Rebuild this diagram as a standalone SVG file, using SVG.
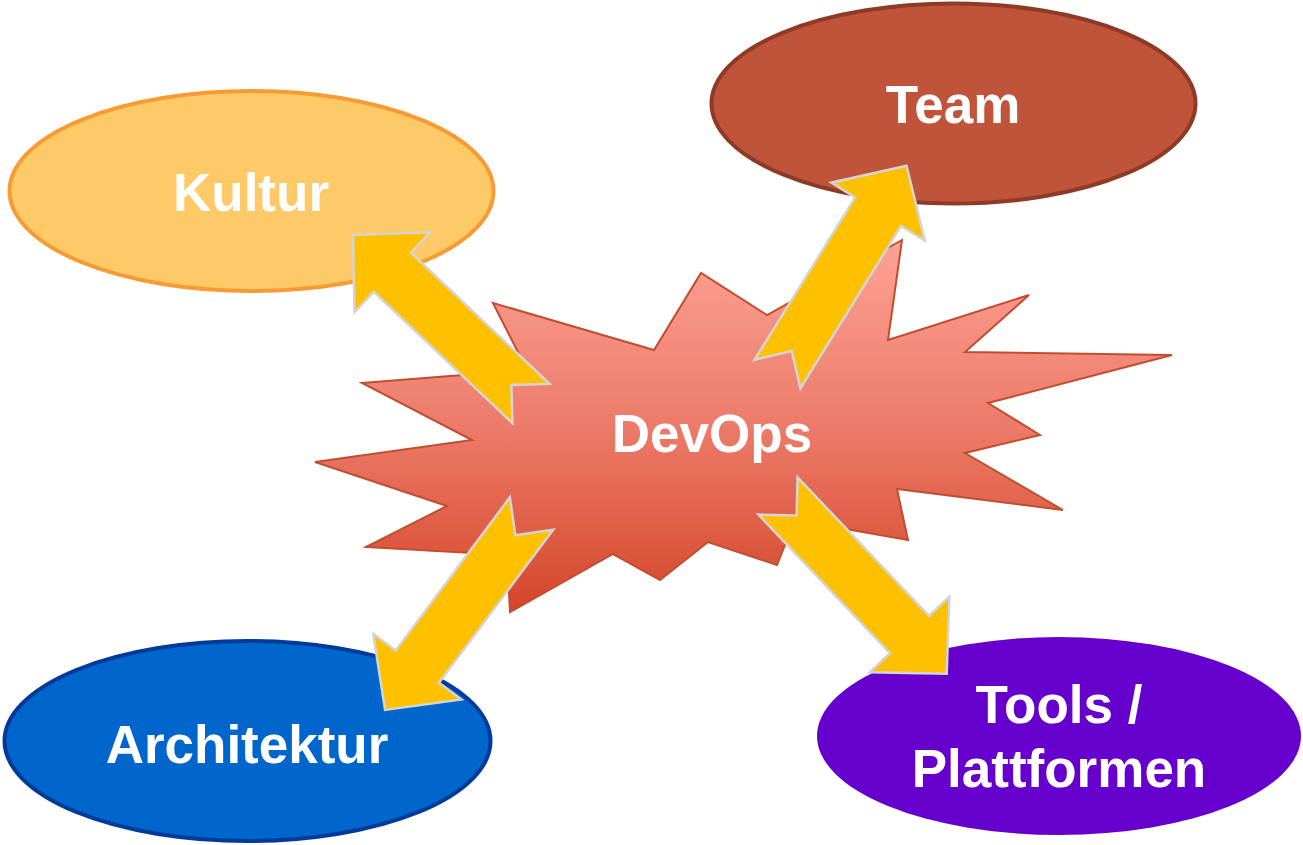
<svg xmlns="http://www.w3.org/2000/svg" xmlns:xlink="http://www.w3.org/1999/xlink" width="1303" height="845" viewBox="0 0 1303 845">
<style>
.lbl{font-family:"Liberation Sans",Arial,sans-serif;font-weight:bold;font-size:53px;fill:#ffffff;text-anchor:middle}
.arr{fill:#FFC000;stroke:#D4D4D4;stroke-width:2.5;stroke-linejoin:miter}
</style>
<defs>
<linearGradient id="burst" x1="0" y1="0" x2="0" y2="1">
<stop offset="0" stop-color="#FDA294"/>
<stop offset="0.5" stop-color="#EC7B69"/>
<stop offset="1" stop-color="#D4462A"/>
</linearGradient>
<polygon id="arr" class="arr" points="0,-27 191,-27 191,-55 245,0 191,55 191,27 0,27 27,0"/>
</defs>
<rect width="1303" height="845" fill="#ffffff"/>
<g id="kultur">
<ellipse cx="251.5" cy="191" rx="242" ry="100" fill="#FECA68" stroke="#F99B35" stroke-width="4"/>
<text class="lbl" x="251" y="211">Kultur</text>
</g>
<g id="team">
<ellipse cx="953.5" cy="103.5" rx="242" ry="100" fill="#C0543A" stroke="#8E3A25" stroke-width="4"/>
<text class="lbl" x="953" y="123">Team</text>
</g>
<g id="architektur">
<ellipse cx="247.5" cy="741" rx="243" ry="100" fill="#0166CB" stroke="#003A9A" stroke-width="4"/>
<text class="lbl" x="247" y="763">Architektur</text>
</g>
<g id="tools">
<ellipse cx="1059" cy="736" rx="242" ry="99" fill="#6600CC"/>
<text class="lbl" x="1059" y="723">Tools /</text>
<text class="lbl" x="1059" y="787">Plattformen</text>
</g>
<g id="devops">
<polygon fill="url(#burst)" stroke="#C24E30" stroke-width="2" stroke-linejoin="miter" points="493,303 654,350 701,273 767,315 902,240 888,340 1029,295 965,352 1172,355 988,403 1040,435 965,453 1063,510 897,489 908,540 795,520 777,565 708,542 660,580 613,554 510,612 507,555 366,547 447,506 315,462 472,440 362,383 527,370"/>
</g>
<g id="connectors">
<use xlink:href="#arr" href="#arr" transform="translate(531,403.5) rotate(-136.57)"/>
<use xlink:href="#arr" href="#arr" transform="translate(777.5,374) rotate(-58.22)"/>
<use xlink:href="#arr" href="#arr" transform="translate(531.5,513.5) rotate(126.71)"/>
<use xlink:href="#arr" href="#arr" transform="translate(778,496) rotate(46.48)"/>
</g>
<text class="lbl" x="712" y="452">DevOps</text>
</svg>
